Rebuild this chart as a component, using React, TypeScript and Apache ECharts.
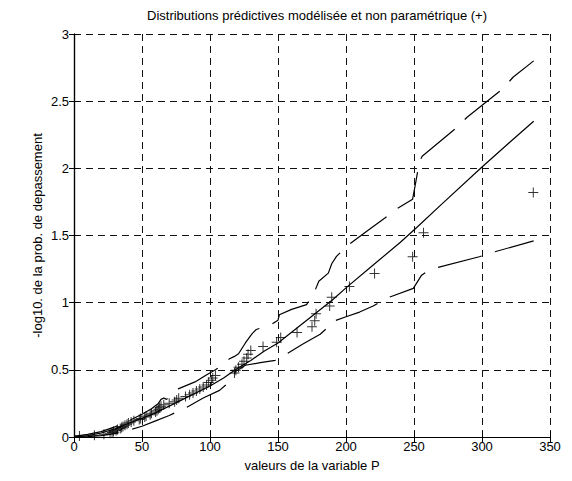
import React, { useEffect, useRef } from "react";
import * as echarts from "echarts";

const titleText = "Distributions prédictives modélisée et non paramétrique (+)";
const xName = "valeurs de la variable P";
const yName = "-log10. de la prob. de depassement";

// Solid line: modelled predictive distribution
const modelX = [0, 10, 20, 30, 40, 50, 60, 70, 80, 90, 100, 110, 120, 130, 140, 150, 160, 170, 180, 190, 200, 220, 240, 252, 270, 300, 320, 338];
const modelY = [0, 0.01, 0.03, 0.06, 0.1, 0.14, 0.18, 0.23, 0.28, 0.33, 0.38, 0.44, 0.51, 0.57, 0.64, 0.7, 0.78, 0.86, 0.94, 1.02, 1.11, 1.28, 1.45, 1.56, 1.73, 2.01, 2.19, 2.35];

// Upper dashed bound
const upperX = [0, 10, 20, 30, 40, 50, 57, 62, 64, 66, 68, 72, 77, 89, 97, 104, 110, 114, 118, 121, 126, 131, 134, 140, 144, 150, 151, 160, 171, 177, 180, 187, 189.5, 193, 201.7, 215, 228.6, 237.7, 249, 251, 254, 256, 281, 289, 315, 323, 338];
const upperY = [0.005, 0.02, 0.04, 0.075, 0.12, 0.17, 0.21, 0.25, 0.28, 0.29, 0.28, 0.31, 0.36, 0.41, 0.46, 0.5, 0.54, 0.58, 0.6, 0.62, 0.7, 0.77, 0.8, 0.82, 0.83, 0.87, 0.91, 0.95, 0.985, 1.085, 1.16, 1.22, 1.29, 1.345, 1.43, 1.53, 1.63, 1.7, 1.77, 1.88, 2.05, 2.09, 2.3, 2.38, 2.59, 2.68, 2.8];

// Lower dashed bound
const lowerX = [0, 10, 20, 30, 40, 50, 60, 70, 83, 95, 107, 113, 119, 126, 137, 148, 152, 156, 168, 181, 186, 189.5, 200, 210, 220, 229, 249.5, 255.6, 260, 265, 298, 308, 338];
const lowerY = [0, 0.003, 0.01, 0.025, 0.05, 0.08, 0.12, 0.16, 0.222, 0.29, 0.347, 0.4, 0.49, 0.534, 0.553, 0.571, 0.595, 0.616, 0.69, 0.765, 0.81, 0.857, 0.895, 0.93, 0.975, 1.03, 1.106, 1.205, 1.235, 1.255, 1.342, 1.375, 1.46];

// Non-parametric points (+)
const obsX = [337.7, 257, 249, 221, 202.5, 189.5, 188, 178, 177, 175, 164, 152, 149, 139, 130, 128, 127, 125, 123.5, 121, 119, 118, 104, 102, 101, 99, 97.5, 95, 92.5, 90, 87.5, 85, 82, 77, 75.5, 74, 70, 66, 64, 63, 62, 61, 60, 57, 56, 53, 52, 49, 48, 44, 42, 40, 39, 37.5, 36, 35, 34, 32, 31, 29, 28, 26.5, 22, 15, 4];
const obsY = [1.82, 1.52, 1.342, 1.217, 1.121, 1.041, 0.975, 0.917, 0.865, 0.82, 0.778, 0.74, 0.706, 0.673, 0.644, 0.616, 0.589, 0.564, 0.541, 0.519, 0.497, 0.477, 0.458, 0.439, 0.422, 0.405, 0.388, 0.373, 0.357, 0.342, 0.328, 0.314, 0.301, 0.288, 0.276, 0.263, 0.251, 0.24, 0.228, 0.218, 0.207, 0.196, 0.186, 0.176, 0.166, 0.157, 0.148, 0.138, 0.13, 0.121, 0.112, 0.104, 0.095, 0.087, 0.079, 0.071, 0.064, 0.056, 0.049, 0.041, 0.034, 0.027, 0.02, 0.013, 0.007];

const zip = (xs: number[], ys: number[]) => xs.map((x, i) => [x, ys[i]]);

const FONT = "Liberation Sans, Arial, Helvetica, sans-serif";

export default function App() {
  const ref = useRef<HTMLDivElement>(null);
  useEffect(() => {
    if (!ref.current) return;
    const chart = echarts.init(ref.current, null, { renderer: "svg" });
    const gridLine = { show: true, lineStyle: { color: "#111", width: 1, type: [7, 5] as any } };
    const axisLine = { show: true, lineStyle: { color: "#000", width: 1.2 } };
    const tick = { show: true, inside: true, length: 5, lineStyle: { color: "#000" } };
    const dashed = { color: "#000", width: 1.2, type: [45, 14] as any };
    chart.setOption({
      animation: false,
      backgroundColor: "#fff",
      textStyle: { fontFamily: FONT },
      title: {
        text: titleText,
        left: 312,
        top: 4,
        textAlign: "center",
        textStyle: { fontFamily: FONT, fontSize: 13, fontWeight: "normal", color: "#000" },
      },
      grid: { left: 74, right: 22, top: 34, bottom: 44, containLabel: false },
      xAxis: [
        {
          type: "value",
          min: 0,
          max: 350,
          interval: 50,
          position: "bottom",
          name: xName,
          nameLocation: "middle",
          nameGap: 22,
          nameMoveOverlap: false,
          nameTextStyle: { fontFamily: FONT, fontSize: 13, color: "#000" },
          axisLine,
          axisTick: tick,
          axisLabel: { color: "#000", fontSize: 13, fontFamily: FONT, margin: 3 },
          splitLine: gridLine,
        },
        {
          type: "value",
          min: 0,
          max: 350,
          interval: 50,
          position: "top",
          axisLine,
          axisTick: tick,
          axisLabel: { show: false },
          splitLine: { show: false },
        },
      ],
      yAxis: [
        {
          type: "value",
          min: 0,
          max: 3,
          interval: 0.5,
          position: "left",
          name: yName,
          nameLocation: "middle",
          nameGap: 30,
          nameMoveOverlap: false,
          nameTextStyle: { fontFamily: FONT, fontSize: 13, color: "#000" },
          axisLine,
          axisTick: tick,
          axisLabel: { color: "#000", fontSize: 13, fontFamily: FONT, margin: 5 },
          splitLine: gridLine,
        },
        {
          type: "value",
          min: 0,
          max: 3,
          interval: 0.5,
          position: "right",
          axisLine,
          axisTick: tick,
          axisLabel: { show: false },
          splitLine: { show: false },
        },
      ],
      series: [
        {
          type: "line",
          data: zip(modelX, modelY),
          showSymbol: false,
          symbol: "none",
          lineStyle: { color: "#000", width: 1.2 },
          z: 3,
        },
        {
          type: "line",
          data: zip(upperX, upperY),
          showSymbol: false,
          symbol: "none",
          lineStyle: dashed,
          z: 3,
        },
        {
          type: "line",
          data: zip(lowerX, lowerY),
          showSymbol: false,
          symbol: "none",
          lineStyle: dashed,
          z: 3,
        },
        {
          type: "scatter",
          data: zip(obsX, obsY),
          symbol: "path://M4.5,0H5.5V4.5H10V5.5H5.5V10H4.5V5.5H0V4.5H4.5Z",
          symbolSize: 10,
          itemStyle: { color: "#000" },
          z: 4,
        },
      ],
    });
    return () => chart.dispose();
  }, []);
  return (
    <div
      ref={ref}
      style={{ position: "fixed", left: 0, top: 0, width: 572, height: 481, background: "#fff" }}
    />
  );
}
